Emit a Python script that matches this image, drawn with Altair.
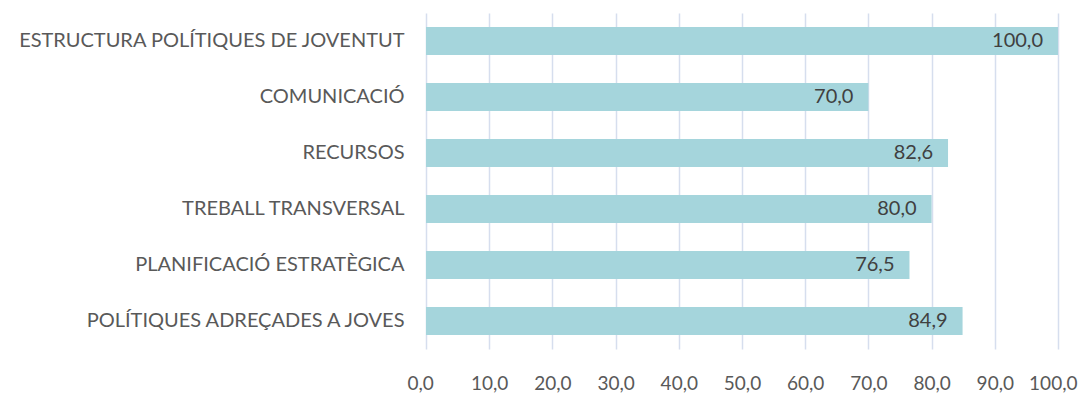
import altair as alt
import pandas as pd

categories = [
    "ESTRUCTURA POLÍTIQUES DE JOVENTUT",
    "COMUNICACIÓ",
    "RECURSOS",
    "TREBALL TRANSVERSAL",
    "PLANIFICACIÓ ESTRATÈGICA",
    "POLÍTIQUES ADREÇADES A JOVES",
]
values = [100.0, 70.0, 82.6, 80.0, 76.5, 84.9]
x_ticks = [0, 10, 20, 30, 40, 50, 60, 70, 80, 90, 100]

df = pd.DataFrame({"cat": categories, "val": values})
df["lbl"] = [f"{v:.1f}".replace(".", ",") for v in values]

FONT = "Lato"

base = alt.Chart(df)

bars = base.mark_bar(color="#A5D5DC", size=28).encode(
    x=alt.X(
        "val:Q",
        scale=alt.Scale(domain=[0, 100], nice=False),
        axis=alt.Axis(
            values=x_ticks,
            labelExpr="replace(format(datum.value, '.1f'), '.', ',')",
            labelOverlap=False,
            labelFlush=True,
            labelFlushOffset=19,
            labelBound=False,
            grid=True,
            gridColor="#D6DEEE",
            gridWidth=1.5,
            domain=False,
            ticks=False,
            labelPadding=25,
            labelFont=FONT,
            labelFontSize=19,
            labelColor="#595959",
            title=None,
        ),
    ),
    y=alt.Y(
        "cat:N",
        sort=categories,
        scale=alt.Scale(paddingInner=0.5, paddingOuter=0.25),
        axis=alt.Axis(
            domain=False,
            ticks=False,
            labelPadding=22,
            labelFont=FONT,
            labelFontSize=20,
            labelColor="#595959",
            labelLimit=500,
            title=None,
        ),
    ),
)

text = base.mark_text(
    align="right", baseline="middle", dx=-15, font=FONT, fontSize=20, color="#404040"
).encode(
    x="val:Q",
    y=alt.Y("cat:N", sort=categories),
    text="lbl:N",
)

chart = (
    alt.layer(bars, text)
    .properties(
        width=632,
        height=336,
        autosize=alt.AutoSizeParams(type="none"),
        padding={"left": 418, "top": 5, "right": 22, "bottom": 50},
    )
    .configure_view(stroke=None)
)

chart.save("out.html", embed_options={"renderer": "svg", "actions": False})
